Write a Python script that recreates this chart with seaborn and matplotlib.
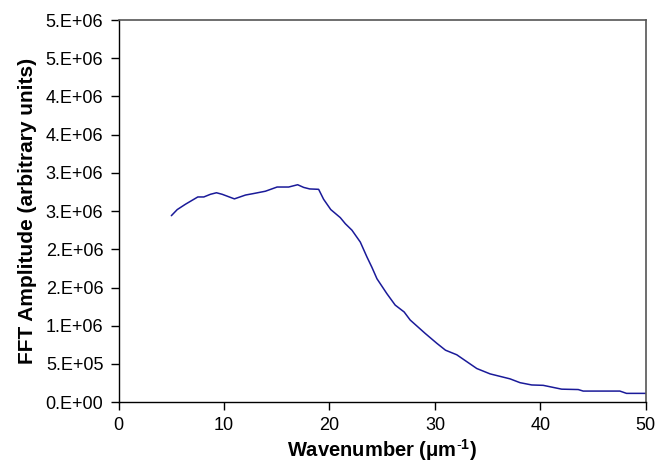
import math
import matplotlib
matplotlib.use("Agg")
import matplotlib.pyplot as plt
import seaborn as sns
import pandas as pd
from matplotlib.ticker import FuncFormatter, MultipleLocator

# values
wavenumber = [5.0, 5.56, 6.34, 7.51, 8.08, 8.71, 9.28, 9.82, 10.98, 12.03,
               12.81, 13.92, 15.03, 16.13, 16.98, 17.55, 18.12, 18.97, 19.44, 20.12,
               21.02, 21.5, 22.13, 22.92, 23.55, 24.02, 24.5, 25.44, 26.23, 27.08,
               27.65, 29.07, 30.18, 31.0, 32.07, 33.97, 35.23, 37.12, 38.07, 39.18,
               40.27, 42.02, 43.59, 44.06, 47.54, 48.17, 50.0]
amplitude = [2.44, 2.52, 2.59, 2.685, 2.685, 2.72, 2.74, 2.72, 2.66, 2.71,
             2.73, 2.76, 2.815, 2.815, 2.845, 2.81, 2.79, 2.785, 2.655, 2.52,
             2.415, 2.335, 2.25, 2.095, 1.90, 1.765, 1.615, 1.42, 1.27, 1.18,
             1.075, 0.90, 0.77, 0.68, 0.62, 0.44, 0.37, 0.305, 0.255, 0.225,
             0.22, 0.17, 0.165, 0.145, 0.145, 0.115, 0.115]
amplitude = [a * 1e6 for a in amplitude]

df = pd.DataFrame({"wavenumber": wavenumber, "amplitude": amplitude})

sns.set_style("ticks")
plt.rcParams["font.family"] = ["Liberation Sans", "DejaVu Sans"]
plt.rcParams["mathtext.fontset"] = "custom"
plt.rcParams["mathtext.rm"] = "Liberation Sans"
plt.rcParams["mathtext.bf"] = "Liberation Sans:bold"

fig = plt.figure(figsize=(6.59, 4.66), dpi=100)
ax = fig.add_axes([0.180, 0.137, 0.800, 0.820])

sns.lineplot(data=df, x="wavenumber", y="amplitude", ax=ax,
             color="#1a1a99", linewidth=1.1)

ax.set_xlim(0, 50)
ax.set_ylim(0, 5e6)
ax.xaxis.set_major_locator(MultipleLocator(10))
ax.yaxis.set_major_locator(MultipleLocator(5e5))


# excel style "0.E+00" with half-up rounding
def excel_sci(v, pos):
    if v == 0:
        return "0.E+00"
    e = int(math.floor(math.log10(abs(v))))
    m = math.floor(v / 10 ** e + 0.5)
    if m >= 10:
        m, e = 1, e + 1
    return f"{m}.E{'+' if e >= 0 else '-'}{abs(e):02d}"


ax.yaxis.set_major_formatter(FuncFormatter(excel_sci))
ax.tick_params(axis="both", direction="out", length=6, width=1,
               labelsize=13, colors="black", pad=5)

for side in ["left", "bottom"]:
    ax.spines[side].set_color("black")
    ax.spines[side].set_linewidth(1.0)
for side in ["top", "right"]:
    ax.spines[side].set_visible(True)
    ax.spines[side].set_color("#555555")
    ax.spines[side].set_linewidth(1.2)

ax.set_xlabel(r"Wavenumber ($\mathbf{\mu}$m$^{\mathbf{\text{-}1}}$)", fontsize=14.5,
              fontweight="bold", color="black", labelpad=2)
ax.set_ylabel("FFT Amplitude (arbitrary units)", fontsize=15,
              fontweight="bold", color="black", labelpad=6)

fig.savefig("out.png", dpi=100)
